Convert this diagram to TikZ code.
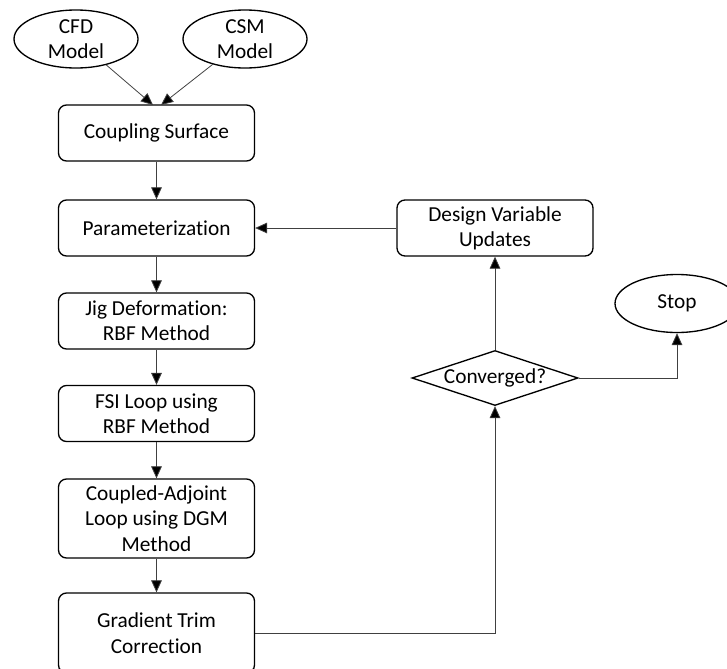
\documentclass[tikz,border=0pt]{standalone}
\usepackage{fontspec}
\setmainfont{Carlito}[Ligatures=NoCommon]
\usetikzlibrary{shapes.geometric, arrows.meta}

\tikzset{
    block/.style={draw, line width=1pt, rounded corners=6pt, minimum width=147pt, minimum height=42pt, align=center, inner sep=0pt},
    oval/.style={draw, ellipse, line width=1pt, minimum width=93pt, minimum height=43.5pt, align=center, inner sep=0pt},
    decide/.style={draw, diamond, line width=1pt, aspect=3, minimum width=124.5pt, minimum height=41.25pt, inner sep=0pt},
    link/.style={draw=black!75, line width=0.6pt, arrows={-Triangle[length=9pt, width=8pt, fill=black]}}
}

\begin{document}
\begin{tikzpicture}[x=0.75pt, y=-0.75pt, font=\fontsize{16}{19}\selectfont]
    \useasboundingbox (0,0) rectangle (727,668);
    \coordinate (in1) at (153,105);
    \coordinate (in2) at (161,105);
	\node [oval] (cfd) at (76,39) {CFD\\Model};
	\node [oval] (csm) at (245,39) {CSM\\Model};
	\node [block] (surf) at (156.5,133) {Coupling Surface};
	\node [block] (param) at (156.5,228) {Parameterization};
	\node [block] (jig) at (156.5,321) {Jig Deformation:\\RBF Method};
	\node [block] (fsi) at (156.5,413.5) {FSI Loop using\\RBF Method};
	\node [block, minimum height=59.25pt] (adj) at (156.5,518.5) {Coupled-Adjoint\\Loop using DGM\\Method};
	\node [block, minimum height=60pt] (trim) at (156.5,633) {Gradient Trim\\Correction};
	\node [decide] (conv) at (495,378) {Converged?};
	\node [block] (dvu) at (495,228) {Design Variable\\Updates};
	\node [oval] (stop) at (677,303.5) {Stop};
	\draw [link] (cfd) -- (in1);
	\draw [link] (csm) -- (in2);
	\draw [link] (surf) -- (param);
	\draw [link] (param) -- (jig);
	\draw [link] (jig) -- (fsi);
	\draw [link] (fsi) -- (adj);
	\draw [link] (adj) -- (trim);
	\draw [link] (trim.east) -| (conv.south);
	\draw [link] (conv) -- (dvu);
	\draw [link] (dvu) -- (param);
	\draw [link] (conv.east) -| (stop.south);
\end{tikzpicture}
\end{document}
